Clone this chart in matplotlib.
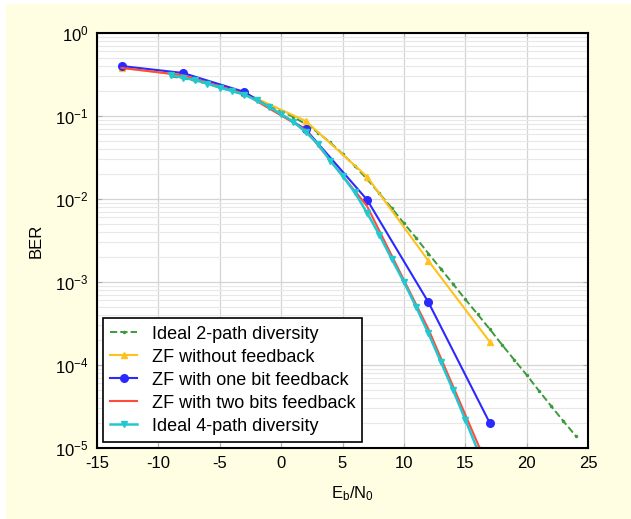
import matplotlib
matplotlib.use("Agg")
import matplotlib.pyplot as plt
from matplotlib.patches import Rectangle
import numpy as np

plt.rcParams['font.family'] = ['Liberation Sans', 'DejaVu Sans']

# Ideal 2-path diversity
snr_2path = [-9, -8, -7, -6, -5, -4, -3, -2, -1, 0, 1, 2, 3, 4, 5, 6, 7, 8,
             9, 10, 11, 12, 13, 14, 15, 16, 17, 18, 19, 20, 21, 22, 23, 24]
ber_2path = [0.30, 0.285, 0.265, 0.245, 0.22, 0.20, 0.18, 0.16, 0.135, 0.115,
             0.097, 0.080, 0.063, 0.048, 0.035, 0.025, 0.0174, 0.0117, 7.8e-3,
             5.1e-3, 3.4e-3, 2.2e-3, 1.45e-3, 9.5e-4, 6.2e-4, 4.1e-4, 2.7e-4,
             1.75e-4, 1.15e-4, 7.6e-5, 4.9e-5, 3.2e-5, 2.1e-5, 1.4e-5]

# ZF curves (simulated points every 5 dB)
snr_zf = [-13, -8, -3, 2, 7, 12, 17]
ber_zf_nofb = [0.38, 0.31, 0.19, 0.087, 0.0186, 1.8e-3, 1.9e-4]
ber_zf_1bit = [0.40, 0.33, 0.195, 0.069, 0.0098, 5.7e-4, 2.0e-5]
ber_zf_2bit = [0.38, 0.31, 0.185, 0.068, 0.0082, 2.7e-4, 5.2e-6]

# Ideal 4-path diversity
snr_4path = [-9, -8, -7, -6, -5, -4, -3, -2, -1, 0, 1, 2, 3, 4, 5, 6, 7, 8,
             9, 10, 11, 12, 13, 14, 15, 16]
ber_4path = [0.31, 0.29, 0.27, 0.245, 0.22, 0.20, 0.18, 0.155, 0.13, 0.105,
             0.085, 0.064, 0.046, 0.029, 0.019, 0.012, 6.8e-3, 3.7e-3, 1.9e-3,
             1.0e-3, 5.0e-4, 2.4e-4, 1.1e-4, 5.0e-5, 2.2e-5, 9.5e-6]

x_ticks = [-15, -10, -5, 0, 5, 10, 15, 20, 25]

fig = plt.figure(figsize=(6.31, 5.19), dpi=100, facecolor='white')
# pale yellow backdrop, with a thin white strip on the top and left
fig.patches.append(Rectangle((6 / 631, 0), 1, 1 - 4 / 519, transform=fig.transFigure,
                             facecolor='#fffee3', edgecolor='none', zorder=-10))

ax = fig.add_axes([97 / 631, 1 - 448 / 519, 491 / 631, 415 / 519])
ax.set_facecolor('white')

ax.semilogy(snr_2path, ber_2path, color='#3c9a3c', ls='--', lw=1.4,
            marker='.', ms=3, label='Ideal 2-path diversity')
ax.semilogy(snr_zf, ber_zf_nofb, color='#ffc21c', lw=1.5,
            marker='^', ms=4, label='ZF without feedback')
ax.semilogy(snr_zf, ber_zf_1bit, color='#2a2aff', lw=1.5,
            marker='o', ms=5.5, label='ZF with one bit feedback')
ax.semilogy(snr_zf, ber_zf_2bit, color='#ff4a3c', lw=1.5,
            label='ZF with two bits feedback')
ax.semilogy(snr_4path, ber_4path, color='#22c8d0', lw=1.8,
            marker='v', ms=4, label='Ideal 4-path diversity')

ax.set_xlim(-15, 25)
ax.set_ylim(1e-5, 1)
ax.set_xticks(x_ticks)
ax.set_xticklabels([str(t) for t in x_ticks])

ax.grid(True, which='major', color='#d4d4d4', lw=0.9)
ax.grid(True, which='minor', axis='y', color='#e8e8e8', lw=0.8)
ax.set_axisbelow(True)

ax.tick_params(which='both', direction='in', top=True, right=True, color='#b0b0b0',
               labelsize=12, pad=6)
ax.tick_params(which='minor', length=0)
for s in ax.spines.values():
    s.set_linewidth(1.5)
    s.set_color('black')

ax.set_xlabel(r'$\mathregular{E_b/N_0}$', fontsize=12, labelpad=9, x=0.52)
ax.set_ylabel('BER', fontsize=12, labelpad=8)

leg = ax.legend(loc='lower left', bbox_to_anchor=(0.012, 0.015), borderaxespad=0,
                fontsize=13, handlelength=1.5, handletextpad=0.8, labelspacing=0.33,
                fancybox=False, framealpha=1, edgecolor='black', borderpad=0.4)
leg.get_frame().set_linewidth(1.2)

fig.savefig('out.png', dpi=100, facecolor=fig.get_facecolor())
